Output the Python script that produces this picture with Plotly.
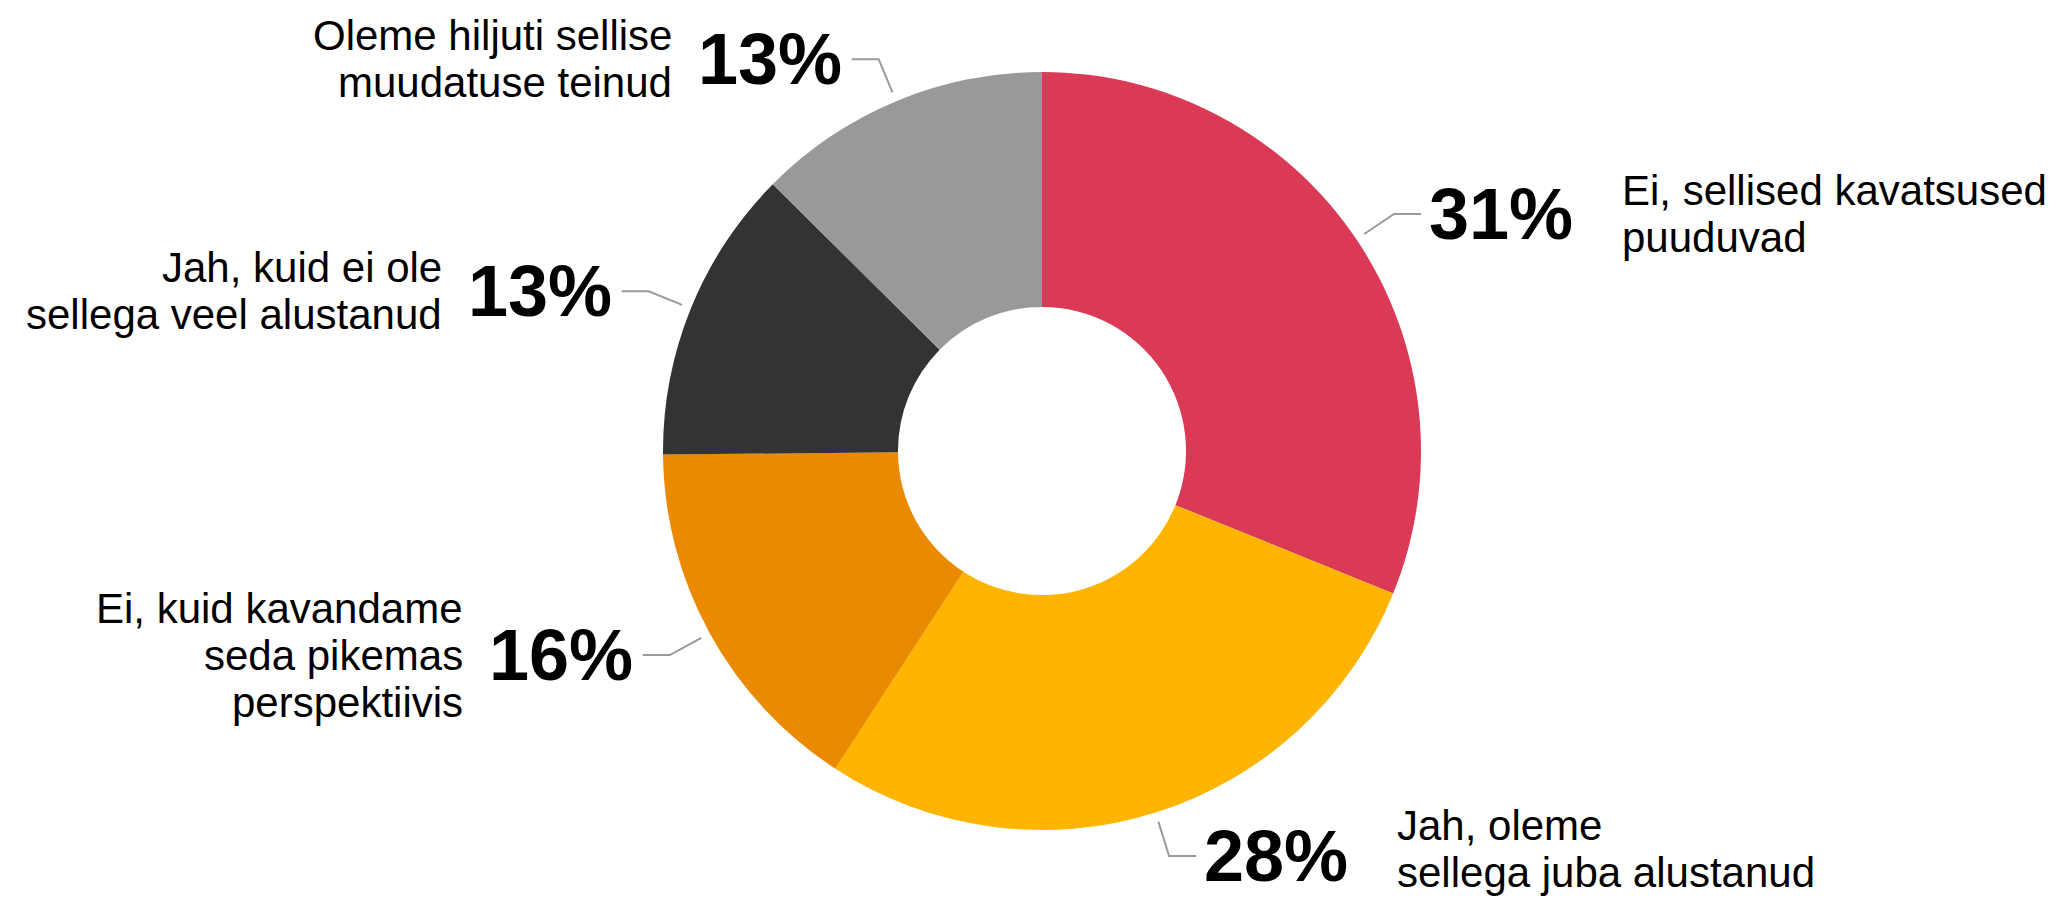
import math
import plotly.graph_objects as go

# ---- data ----
label_lines = [
    ["Ei, sellised kavatsused", "puuduvad"],
    ["Jah, oleme", "sellega juba alustanud"],
    ["Ei, kuid kavandame", "seda pikemas", "perspektiivis"],
    ["Jah, kuid ei ole", "sellega veel alustanud"],
    ["Oleme hiljuti sellise", "muudatuse teinud"],
]
values = [31.2, 28.1, 15.7, 12.6, 12.6]
colors = ["#DA3A56", "#FFB400", "#E98A00", "#333333", "#999999"]

# ---- geometry / style (window pixels) ----
WIN_W, WIN_H = 2067, 902
BODY = 8                       # default html body margin
W, H = WIN_W - 2 * BODY, WIN_H - BODY
CX, CY, R = 1042 - BODY, 451 - BODY, 379
HOLE = 0.38
FONT = "Liberation Sans, Arial, sans-serif"
LINE_COLOR = "#9a9a9a"
LINE_STEP = 47
BOTTOM_LIMIT = WIN_H - 30 - BODY

def px2paper(x, y):
    return x / W, 1 - y / H

fig = go.Figure(go.Pie(
    labels=[" ".join(l) for l in label_lines],
    values=values,
    hole=HOLE,
    sort=False,
    direction="clockwise",
    rotation=0,
    marker=dict(colors=colors, line=dict(color="white", width=0)),
    textinfo="none",
    hoverinfo="label+percent",
    domain=dict(x=[(CX - R) / W, (CX + R) / W], y=[1 - (CY + R) / H, 1 - (CY - R) / H]),
    showlegend=False,
))

total = sum(values)
shapes = []
annotations = []
cum = 0.0
for lines, v in zip(label_lines, values):
    mid = (cum + v / 2) / total * 2 * math.pi
    cum += v
    sx, sy = CX + 1.025 * R * math.sin(mid), CY - 1.025 * R * math.cos(mid)
    ex, ey = CX + 1.12 * R * math.sin(mid), CY - 1.12 * R * math.cos(mid)
    right = math.sin(mid) >= 0
    hx = ex + (27 if right else -27)
    p0, p1, p2 = px2paper(sx, sy), px2paper(ex, ey), px2paper(hx, ey)
    shapes.append(dict(
        type="path", xref="paper", yref="paper",
        path=f"M {p0[0]},{p0[1]} L {p1[0]},{p1[1]} L {p2[0]},{p2[1]}",
        line=dict(color=LINE_COLOR, width=2),
    ))
    pct = f"{round(v / total * 100)}%"
    if right:
        px_, lx_, anc = hx + 6, hx + 199, "left"
    else:
        px_, lx_, anc = hx - 8, hx - 178, "right"
    annotations.append(dict(
        x=px_ / W, y=1 - ey / H, xref="paper", yref="paper",
        xanchor=anc, yanchor="middle", showarrow=False,
        text=f"<b>{pct}</b>", font=dict(family=FONT, size=72, color="#000000"),
    ))
    n = len(lines)
    first = ey - (n - 1) / 2 * LINE_STEP
    last = first + (n - 1) * LINE_STEP
    if last > BOTTOM_LIMIT:
        first -= last - BOTTOM_LIMIT
    for i, t in enumerate(lines):
        yy = first + i * LINE_STEP
        annotations.append(dict(
            x=lx_ / W, y=1 - yy / H, xref="paper", yref="paper",
            xanchor=anc, yanchor="middle", showarrow=False,
            text=t, font=dict(family=FONT, size=42, color="#000000"),
        ))

fig.update_layout(
    width=W, height=H,
    margin=dict(l=0, r=0, t=0, b=0),
    paper_bgcolor="white", plot_bgcolor="white",
    shapes=shapes, annotations=annotations,
)

fig.write_html("out.html")
